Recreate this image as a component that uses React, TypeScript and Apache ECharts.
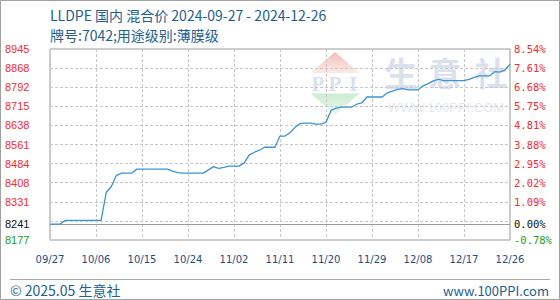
import React, { useEffect, useRef } from "react";
import * as echarts from "echarts";

const titleText = "LLDPE 国内 混合价 2024-09-27 - 2024-12-26";
const subTitleText = "牌号:7042;用途级别:薄膜级";
const footerLeft = "© 2025.05 生意社";
const footerRight = "www.100PPI.com";

const startDate = "2024-09-27";
const dayCount = 91;

// daily price, 2024-09-27 .. 2024-12-26
const prices = [
  8241, 8241, 8241, 8256, 8256, 8256, 8256, 8256, 8256, 8256,
  8256, 8368, 8392, 8437, 8446, 8446, 8446, 8462, 8462, 8462,
  8462, 8462, 8462, 8462, 8454, 8448, 8446, 8446, 8446, 8446,
  8446, 8459, 8472, 8465, 8469, 8474, 8474, 8474, 8487, 8519,
  8530, 8538, 8550, 8550, 8550, 8595, 8595, 8609, 8631, 8646,
  8647, 8647, 8643, 8643, 8651, 8698, 8707, 8711, 8711, 8711,
  8723, 8728, 8752, 8752, 8752, 8752, 8769, 8776, 8783, 8786,
  8781, 8781, 8781, 8797, 8806, 8817, 8823, 8818, 8818, 8818,
  8818, 8818, 8823, 8831, 8837, 8837, 8837, 8854, 8852, 8860,
  8884,
];

const basePrice = 8241;
const yMin = 8177;
const yMax = 8945;
const yDivisions = 10;
// left tick labels, bottom to top (8254 grid line is replaced by the base price)
const leftTickLabels = ["8177", "8241", "8331", "8408", "8484", "8561", "8638", "8715", "8792", "8868", "8945"];
const rightTickLabels = ["-0.78%", "0.00%", "1.09%", "2.02%", "2.95%", "3.88%", "4.81%", "5.75%", "6.68%", "7.61%", "8.54%"];

function buildDates(): string[] {
  const out: string[] = [];
  const d0 = new Date(startDate + "T00:00:00Z");
  for (let i = 0; i < dayCount; i++) {
    const d = new Date(d0.getTime() + i * 86400000);
    const mm = String(d.getUTCMonth() + 1).padStart(2, "0");
    const dd = String(d.getUTCDate()).padStart(2, "0");
    out.push(mm + "/" + dd);
  }
  return out;
}

export default function App() {
  const ref = useRef<HTMLDivElement>(null);
  useEffect(() => {
    if (!ref.current) return;
    const chart = echarts.init(ref.current, null, { renderer: "svg" });
    const dates = buildDates();
    const step = (yMax - yMin) / yDivisions;
    const gridVals: number[] = [];
    for (let k = 0; k <= yDivisions; k++) gridVals.push(yMin + step * k);
    const innerGrid = gridVals.slice(1, yDivisions);
    const labelVals = [yMin, basePrice, ...gridVals.slice(2)];

    const idxOf = (v: number) => {
      let best = 0;
      let bd = Infinity;
      labelVals.forEach((lv, i) => {
        const d = Math.abs(lv - v);
        if (d < bd) { bd = d; best = i; }
      });
      return best;
    };
    const styleKey = (i: number) => (i === 1 ? "b" : i === 0 ? "g" : "r");

    const rich = {
      r: { color: "#ff2a2a", fontFamily: "Liberation Sans", fontSize: 11 },
      b: { color: "#111111", fontFamily: "Liberation Sans", fontSize: 11 },
      g: { color: "#22a322", fontFamily: "Liberation Sans", fontSize: 11 },
    };
    const richMono = {
      r: { color: "#ff2a2a", fontFamily: "DejaVu Sans Mono", fontSize: 10.5 },
      b: { color: "#111111", fontFamily: "DejaVu Sans Mono", fontSize: 10.5 },
      g: { color: "#22a322", fontFamily: "DejaVu Sans Mono", fontSize: 10.5 },
    };

    const wmColor = "rgba(196,205,224,0.62)";

    chart.setOption({
      animation: false,
      backgroundColor: "#ffffff",
      grid: {
        left: 50,
        right: 50,
        top: 49,
        bottom: 60,
        show: true,
        borderColor: "#9a9a9a",
        borderWidth: 1,
        backgroundColor: "transparent",
      },
      xAxis: {
        type: "category",
        data: dates,
        boundaryGap: false,
        axisLine: { show: false },
        axisTick: { show: false, interval: 8 },
        axisLabel: {
          interval: 8,
          margin: 14,
          color: "#1b4f82",
          fontFamily: "DejaVu Sans",
          fontSize: 10,
          showMaxLabel: true,
        },
        splitLine: {
          show: true,
          interval: 8,
          lineStyle: { color: "#c8c8c8", type: [3, 2], width: 1 },
        },
      },
      yAxis: [
        {
          type: "value",
          min: yMin,
          max: yMax,
          position: "left",
          axisLine: { show: false },
          axisTick: { show: false, customValues: innerGrid },
          splitLine: {
            show: true,
            lineStyle: { color: "#c8c8c8", type: [3, 2], width: 1 },
          },
          axisLabel: {
            customValues: labelVals,
            align: "left",
            margin: 45,
            formatter: (v: number) => {
              const i = idxOf(v);
              return "{" + styleKey(i) + "|" + leftTickLabels[i] + "}";
            },
            rich,
          },
        },
        {
          type: "value",
          min: yMin,
          max: yMax,
          position: "right",
          axisLine: { show: false },
          axisTick: { show: false, customValues: innerGrid },
          splitLine: { show: false },
          axisLabel: {
            customValues: labelVals,
            align: "left",
            margin: 4,
            formatter: (v: number) => {
              const i = idxOf(v);
              return "{" + styleKey(i) + "|" + rightTickLabels[i] + "}";
            },
            rich: richMono,
          },
        },
      ],
      series: [
        {
          type: "line",
          data: prices,
          yAxisIndex: 0,
          showSymbol: false,
          symbol: "none",
          lineStyle: { color: "#3a94d6", width: 1.3 },
          z: 5,
          markLine: {
            silent: true,
            symbol: "none",
            label: { show: false },
            lineStyle: { color: "#9a9a9a", type: "solid", width: 1 },
            data: [{ yAxis: basePrice }],
          },
        },
      ],
      graphic: [
        {
          type: "rect",
          shape: { x: 0.5, y: 0.5, width: 559, height: 299 },
          style: { fill: "none", stroke: "#a0a0a0", lineWidth: 1 },
          z: 100,
        },
        {
          type: "text",
          x: 50,
          y: 15,
          style: {
            text: titleText,
            fill: "#245e8f",
            font: "14px 'Noto Sans CJK SC', sans-serif",
            textVerticalAlign: "middle",
          },
        },
        {
          type: "text",
          x: 50,
          y: 35,
          style: {
            text: subTitleText,
            fill: "#245e8f",
            font: "14px 'Noto Sans CJK SC', sans-serif",
            textVerticalAlign: "middle",
          },
        },
        {
          type: "line",
          shape: { x1: 10, y1: 279.5, x2: 550, y2: 279.5 },
          style: { stroke: "#a8a8a8", lineWidth: 1 },
        },
        {
          type: "text",
          x: 10,
          y: 290,
          style: {
            text: footerLeft,
            fill: "#245e8f",
            font: "14px 'Noto Sans CJK SC', sans-serif",
            textVerticalAlign: "middle",
          },
        },
        {
          type: "text",
          x: 549,
          y: 290,
          style: {
            text: footerRight,
            fill: "#245e8f",
            font: "13px 'Noto Sans CJK SC', sans-serif",
            textAlign: "right",
            textVerticalAlign: "middle",
          },
        },
        // watermark logo
        {
          type: "group",
          z: -10,
          silent: true,
          children: [
            {
              type: "polygon",
              shape: { points: [[335, 52], [310.5, 73], [359.5, 73]] },
              style: {
                fill: new echarts.graphic.LinearGradient(0, 0, 0, 1, [
                  { offset: 0, color: "rgba(238,172,164,0.8)" },
                  { offset: 1, color: "rgba(250,222,218,0.65)" },
                ]),
              },
            },
            {
              type: "polygon",
              shape: { points: [[310.5, 93.5], [359.5, 93.5], [335, 115]] },
              style: {
                fill: new echarts.graphic.LinearGradient(0, 0, 0, 1, [
                  { offset: 0, color: "rgba(196,232,202,0.85)" },
                  { offset: 1, color: "rgba(222,242,225,0.65)" },
                ]),
              },
            },
            {
              type: "text",
              x: 318,
              y: 84,
              style: {
                text: "P",
                fill: wmColor,
                font: "bold 21px 'Liberation Serif', serif",
                textAlign: "center",
                textVerticalAlign: "middle",
              },
            },
            {
              type: "text",
              x: 335,
              y: 84,
              style: {
                text: "P",
                fill: wmColor,
                font: "bold 21px 'Liberation Serif', serif",
                textAlign: "center",
                textVerticalAlign: "middle",
              },
            },
            {
              type: "text",
              x: 353,
              y: 84,
              style: {
                text: "I",
                fill: wmColor,
                font: "bold 21px 'Liberation Serif', serif",
                textAlign: "center",
                textVerticalAlign: "middle",
              },
            },
            {
              type: "text",
              x: 401,
              y: 72,
              style: {
                text: "生",
                fill: wmColor,
                font: "bold 33px 'Noto Sans CJK SC', sans-serif",
                textAlign: "center",
                textVerticalAlign: "middle",
              },
            },
            {
              type: "text",
              x: 445,
              y: 72,
              style: {
                text: "意",
                fill: wmColor,
                font: "bold 33px 'Noto Sans CJK SC', sans-serif",
                textAlign: "center",
                textVerticalAlign: "middle",
              },
            },
            {
              type: "text",
              x: 491,
              y: 72,
              style: {
                text: "社",
                fill: wmColor,
                font: "bold 33px 'Noto Sans CJK SC', sans-serif",
                textAlign: "center",
                textVerticalAlign: "middle",
              },
            },
            {
              type: "text",
              x: 446,
              y: 107,
              style: {
                text: "WWW.100PPI.COM",
                fill: "rgba(210,216,230,0.6)",
                font: "13px 'Liberation Sans', sans-serif",
                textAlign: "center",
                textVerticalAlign: "middle",
              },
            },
          ],
        },
      ],
    });
    return () => chart.dispose();
  }, []);
  return (
    <div
      ref={ref}
      style={{ position: "absolute", left: 0, top: 0, width: 560, height: 300 }}
    />
  );
}
